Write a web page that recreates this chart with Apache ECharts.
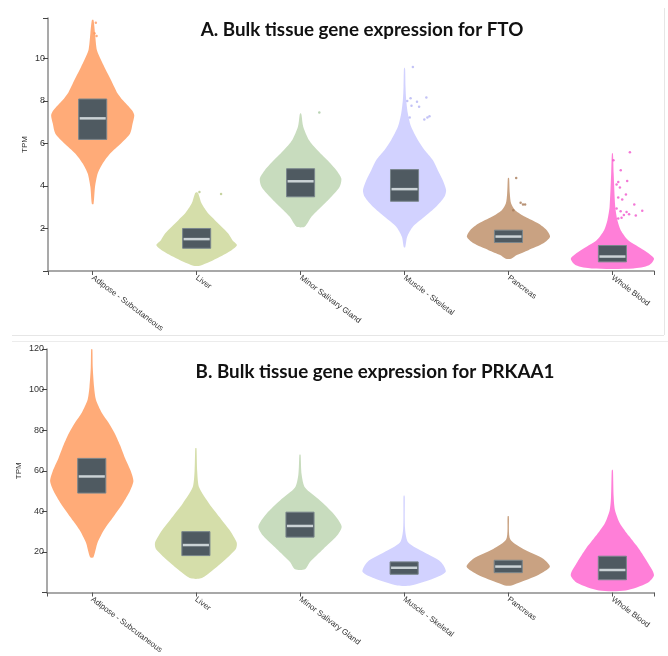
<!DOCTYPE html>
<html><head><meta charset="utf-8">
<script src="https://cdn.jsdelivr.net/npm/echarts@6/dist/echarts.min.js"></script>
<style>html,body{margin:0;padding:0;background:#fff}#c{width:668px;height:656px}</style>
</head><body><div id="c"></div>
<script>
// ---------- data ----------
const categories = ['Adipose - Subcutaneous','Liver','Minor Salivary Gland','Muscle - Skeletal','Pancreas','Whole Blood'];

// violin profiles: [TPM value, relative density]
const ftoProfiles = [
  [[3.15,0.02],[3.96,0.056],[4.59,0.12],[5.06,0.24],[5.53,0.42],[6.0,0.68],[6.47,0.9],[6.94,0.96],[7.33,1.0],[7.57,0.94],[8.04,0.72],[8.35,0.6],[8.66,0.52],[9.14,0.4],[9.6,0.28],[9.92,0.2],[10.39,0.1],[11.17,0.056],[11.8,0.02]],
  [[0.25,0.08],[0.43,0.32],[0.67,0.56],[0.98,0.84],[1.22,0.97],[1.45,0.86],[1.76,0.76],[2.08,0.6],[2.39,0.44],[2.70,0.28],[3.17,0.12],[3.65,0.04],[3.7,0.01]],
  [[2.07,0.09],[2.23,0.16],[2.55,0.26],[3.02,0.5],[3.49,0.74],[3.96,0.94],[4.35,0.98],[4.74,0.86],[5.22,0.64],[5.69,0.4],[6.16,0.2],[6.78,0.064],[7.33,0.024],[7.41,0.01]],
  [[1.12,0.016],[1.61,0.064],[2.08,0.2],[2.55,0.48],[3.02,0.76],[3.49,0.96],[3.80,1.0],[4.27,0.92],[4.74,0.8],[5.22,0.68],[5.69,0.48],[6.16,0.32],[6.78,0.16],[7.41,0.08],[8.04,0.04],[8.67,0.024],[9.45,0.016],[9.55,0.008]],
  [[0.58,0.064],[0.75,0.2],[0.98,0.48],[1.30,0.84],[1.61,1.0],[1.92,0.92],[2.23,0.72],[2.55,0.4],[2.86,0.16],[3.17,0.064],[3.65,0.032],[4.35,0.016],[4.38,0.008]],
  [[0.12,0.5],[0.27,0.88],[0.59,1.0],[0.98,0.76],[1.45,0.38],[1.92,0.2],[2.39,0.12],[3.02,0.068],[4.59,0.03],[5.53,0.012]]
];
// boxes: [q1, median, q3]
const ftoBoxes = [[6.19,7.18,8.09],[1.07,1.50,2.0],[3.49,4.22,4.81],[3.28,3.85,4.77],[1.34,1.62,1.92],[0.43,0.68,1.2]];
// outliers: [category index, TPM value, jitter]
const ftoOutliers = [
  [0,11.93,0.05],[0,11.68,0.03],[0,11.18,0.017],[0,11.05,0.037],
  [1,3.71,0.027],[1,3.62,0.235],
  [2,7.46,0.18],
  [3,9.59,0.08],[3,8.12,0.058],[3,7.96,0.12],[3,8.16,0.21],[3,7.77,0.067],[3,7.72,0.14],[3,8.0,0.026],[3,7.22,0.05],[3,7.13,0.19],[3,7.22,0.22],[3,7.28,0.24],
  [4,4.38,0.074],[4,3.21,0.117],[4,3.13,0.14],[4,3.13,0.16],[4,2.86,0.046],
  [5,5.58,0.168],[5,5.21,0.01],[5,4.74,0.08],[5,4.19,0.056],[5,4.23,0.142],[5,4.07,0.04],[5,3.93,0.072],[5,3.60,0.13],[5,3.46,0.056],[5,3.36,0.094],
  [5,3.13,0.21],[5,2.94,0.04],[5,2.78,0.136],[5,2.81,0.079],[5,2.67,0.16],[5,2.83,0.287],[5,2.61,0.225],[5,2.63,0.11],[5,2.47,0.056],[5,2.50,0.088]
];

const prkaa1Profiles = [
  [[17.4,0.04],[24.6,0.14],[31.0,0.3],[37.3,0.52],[43.7,0.74],[50.1,0.92],[54.9,1.0],[59.7,0.94],[66.2,0.8],[72.6,0.68],[78.9,0.54],[83.8,0.4],[88.6,0.24],[95.0,0.1],[101.2,0.056],[110.8,0.024],[119.5,0.016],[120,0.008]],
  [[7,0.12],[10.3,0.36],[15.1,0.64],[21.5,0.96],[24.6,0.98],[31.0,0.8],[37.4,0.56],[43.8,0.32],[51.7,0.08],[59.7,0.032],[70.9,0.016],[71.2,0.008]],
  [[11.5,0.12],[15.1,0.24],[21.5,0.56],[27.8,0.88],[32.6,1.0],[39.0,0.8],[45.4,0.48],[51.7,0.12],[58.1,0.04],[67.7,0.016],[68,0.008]],
  [[3.5,0.16],[7.1,0.72],[10.3,1.0],[15.1,0.88],[19.8,0.48],[24.6,0.1],[31.0,0.024],[47.0,0.016],[47.8,0.008]],
  [[3.5,0.08],[4.7,0.24],[8.7,0.72],[12.7,1.0],[16.7,0.84],[21.5,0.36],[26.2,0.048],[37.4,0.016],[37.7,0.008]],
  [[1.0,0.32],[4.7,0.84],[8.7,1.0],[15.1,0.84],[21.5,0.64],[27.8,0.4],[34.2,0.18],[40.6,0.064],[47.0,0.032],[59.7,0.016],[60.5,0.008]]
];
const prkaa1Boxes = [[49.0,57.2,66.1],[18.2,23.4,30.0],[27.3,32.8,39.6],[9.0,12.2,15.1],[9.8,12.8,15.9],[6.3,11.1,17.9]];

const ftoYTicks = [2,4,6,8,10];
const prkaa1YTicks = [20,40,60,80,100,120];

// ---------- styles ----------
const violinColors = ['#ffab78','#d5deaa','#c8dcbe','#d2d2ff','#c9a282','#ff7fd8'];
const outlierColors = ['#ff9a60','#b8c888','#a8c8a0','#b4b4f4','#a87a58','#f055cc'];
const HALF = 0.4, BOXHALF = 0.135;

function violinRender(profiles) {
  return function (params, api) {
    const i = api.value(0);
    const prof = profiles[i];
    const right = prof.map(p => api.coord([i + p[1] * HALF, p[0]]));
    const left = prof.slice().reverse().map(p => api.coord([i - p[1] * HALF, p[0]]));
    return { type: 'polygon', shape: { points: right.concat(left), smooth: 0.25 },
      style: { fill: violinColors[i] } };
  };
}
function boxRender(boxes) {
  return function (params, api) {
    const i = api.value(0); const b = boxes[i];
    const tl = api.coord([i - BOXHALF, b[2]]), br = api.coord([i + BOXHALF, b[0]]);
    const ml = api.coord([i - BOXHALF, b[1]]), mr = api.coord([i + BOXHALF, b[1]]);
    return { type: 'group', children: [
      { type: 'rect', shape: { x: tl[0], y: tl[1], width: br[0] - tl[0], height: br[1] - tl[1] },
        style: { fill: '#4f5a61', stroke: '#7a868c', lineWidth: 1 } },
      { type: 'line', shape: { x1: ml[0] + 1, y1: ml[1], x2: mr[0] - 1, y2: mr[1] },
        style: { stroke: '#cbd3d6', lineWidth: 2.5 } }
    ] };
  };
}

function xAxis(gi) {
  return { type: 'value', gridIndex: gi, min: -0.43, max: 5.4,
    axisLine: { show: true, onZero: false, lineStyle: { color: '#8c8c8c', width: 1.5 } },
    splitLine: { show: false },
    axisTick: { show: true, customValues: [-0.43, 0, 1, 2, 3, 4, 5, 5.4], length: 4, lineStyle: { color: '#555' } },
    axisLabel: { customValues: [0, 1, 2, 3, 4, 5], formatter: v => categories[Math.round(v)], rotate: -37,
      fontSize: 8, color: '#333', margin: 6, fontFamily: 'Liberation Sans' } };
}
function yAxis(gi, max, ticks, gap) {
  return { type: 'value', gridIndex: gi, min: 0, max: max,
    axisLine: { show: true, onZero: false, lineStyle: { color: '#8c8c8c', width: 1.5 } },
    splitLine: { show: false },
    axisTick: { show: true, customValues: [0].concat(ticks, [max]), length: 5, lineStyle: { color: '#444' } },
    axisLabel: { customValues: ticks, fontSize: 9, color: '#333', margin: 3, fontFamily: 'Liberation Sans' },
    name: 'TPM', nameLocation: 'middle', nameGap: gap, nameMoveOverlap: false,
    nameTextStyle: { fontSize: 8, color: '#333', fontFamily: 'Liberation Sans' } };
}

const idx = categories.map((c, i) => [i, 0]);

const chart = echarts.init(document.getElementById('c'), null, { renderer: 'canvas' });
chart.setOption({
  animation: false,
  backgroundColor: '#ffffff',
  grid: [
    { left: 48, top: 18, width: 606, height: 253 },
    { left: 47, top: 349, width: 607, height: 251 }
  ],
  xAxis: [xAxis(0), xAxis(1)],
  yAxis: [yAxis(0, 11.9, ftoYTicks, 19), yAxis(1, 120, prkaa1YTicks, 24)],
  graphic: [
    { type: 'line', shape: { x1: 12, y1: 335.5, x2: 664, y2: 335.5 }, style: { stroke: '#e6e6e6', lineWidth: 1 } },
    { type: 'line', shape: { x1: 664.5, y1: 8, x2: 664.5, y2: 335 }, style: { stroke: '#e6e6e6', lineWidth: 1 } },
    { type: 'line', shape: { x1: 12, y1: 341.5, x2: 668, y2: 341.5 }, style: { stroke: '#ececec', lineWidth: 1 } },
    { type: 'text', x: 362, y: 30, style: { text: 'A. Bulk tissue gene expression for FTO', fontFamily: 'Lato', fontWeight: 'bold', fontSize: 18.8, fill: '#111', align: 'center', verticalAlign: 'middle' } },
    { type: 'text', x: 375, y: 372, style: { text: 'B. Bulk tissue gene expression for PRKAA1', fontFamily: 'Lato', fontWeight: 'bold', fontSize: 18.8, fill: '#111', align: 'center', verticalAlign: 'middle' } }
  ],
  series: [
    { type: 'custom', xAxisIndex: 0, yAxisIndex: 0, data: idx, renderItem: violinRender(ftoProfiles), z: 1 },
    { type: 'custom', xAxisIndex: 0, yAxisIndex: 0, data: idx, renderItem: boxRender(ftoBoxes), z: 2 },
    { type: 'scatter', xAxisIndex: 0, yAxisIndex: 0, symbolSize: 2.5, z: 3,
      data: ftoOutliers.map(o => ({ value: [o[0] + o[2], o[1]], itemStyle: { color: outlierColors[o[0]] } })) },
    { type: 'custom', xAxisIndex: 1, yAxisIndex: 1, data: idx, renderItem: violinRender(prkaa1Profiles), z: 1 },
    { type: 'custom', xAxisIndex: 1, yAxisIndex: 1, data: idx, renderItem: boxRender(prkaa1Boxes), z: 2 }
  ]
});
</script>
</body></html>
